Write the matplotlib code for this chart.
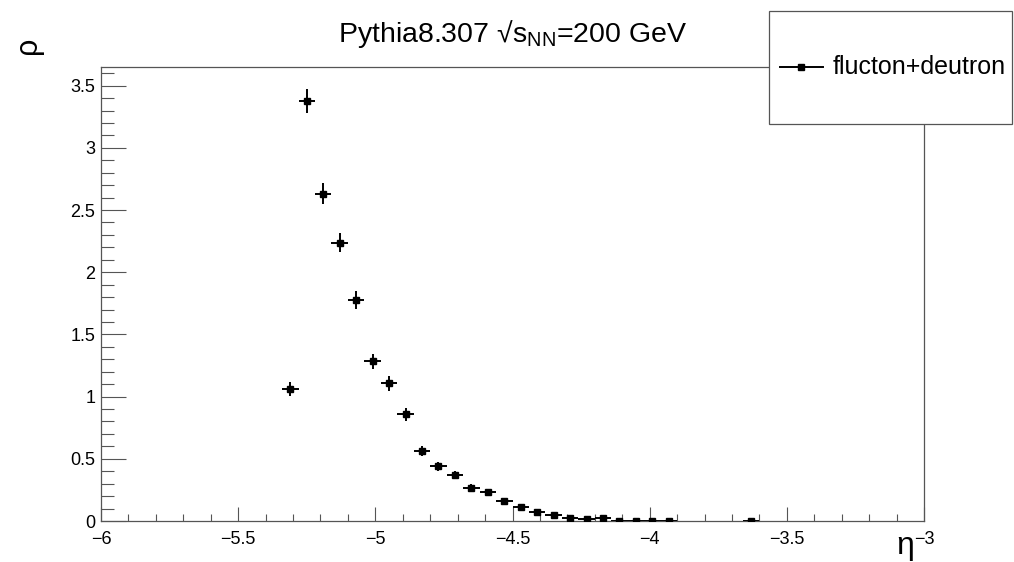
import matplotlib
matplotlib.use("Agg")
import matplotlib.pyplot as plt
from matplotlib.patches import Rectangle
from matplotlib.lines import Line2D
from matplotlib.ticker import MultipleLocator

# ROOT-like look
plt.rcParams['font.family'] = ['Liberation Sans', 'DejaVu Sans']
plt.rcParams['mathtext.fontset'] = 'custom'
plt.rcParams['mathtext.rm'] = 'Liberation Sans'
plt.rcParams['mathtext.it'] = 'Liberation Sans:italic'

# data: bin centres (eta), density (rho) and statistical errors
eta = [-5.31, -5.25, -5.19, -5.13, -5.07, -5.01, -4.95, -4.89, -4.83, -4.77,
       -4.71, -4.65, -4.59, -4.53, -4.47, -4.41, -4.35, -4.29, -4.23, -4.17,
       -4.11, -4.05, -3.99, -3.93, -3.63]
rho = [1.058, 3.376, 2.632, 2.239, 1.775, 1.285, 1.106, 0.857, 0.565, 0.442,
       0.372, 0.268, 0.23, 0.158, 0.115, 0.075, 0.046, 0.027, 0.014, 0.027,
       0.004, 0.004, 0.004, 0.004, 0.004]
rho_err = [0.056, 0.098, 0.085, 0.08, 0.072, 0.061, 0.057, 0.05, 0.04, 0.036,
           0.033, 0.028, 0.026, 0.021, 0.018, 0.015, 0.012, 0.009, 0.006, 0.009,
           0.003, 0.003, 0.003, 0.003, 0.003]
bin_half = 0.03

fig = plt.figure(figsize=(10.14, 5.62), dpi=100)
ax = fig.add_axes([101 / 1014, 41 / 562, 823 / 1014, 454 / 562])

ax.errorbar(eta, rho, xerr=bin_half, yerr=rho_err, fmt='s', color='black',
            ms=5, elinewidth=1.4, capsize=0, zorder=3)

ax.set_xlim(-6, -3)
ax.set_ylim(0, 3.65)
ax.xaxis.set_major_locator(MultipleLocator(0.5))
ax.xaxis.set_minor_locator(MultipleLocator(0.1))
ax.yaxis.set_major_locator(MultipleLocator(0.5))
ax.yaxis.set_minor_locator(MultipleLocator(0.1))
ax.tick_params(axis='x', which='major', direction='in', length=10, width=0.8,
               color='#555555', labelsize=13, pad=7, top=False)
ax.tick_params(axis='x', which='minor', direction='in', length=5, width=0.8,
               color='#555555', top=False)
ax.tick_params(axis='y', which='major', direction='in', length=18, width=0.8,
               color='#555555', labelsize=13, pad=4, right=False)
ax.tick_params(axis='y', which='minor', direction='in', length=9, width=0.8,
               color='#555555', right=False)
for s in ax.spines.values():
    s.set_color('#555555')
    s.set_linewidth(0.9)

ax.xaxis.set_major_formatter(plt.FuncFormatter(
    lambda v, p: ('%g' % v).replace('-', '\u2212')))
ax.yaxis.set_major_formatter(plt.FuncFormatter(lambda v, p: '%g' % v))

# title and axis titles
fig.text(513 / 1014, 1 - 34 / 562, 'Pythia8.307 \u221a$\\mathregular{s_{NN}}$=200 GeV',
         ha='center', va='center', fontsize=20.5)
fig.text(28 / 1014, 1 - 45 / 562, '\u03c1', ha='center', va='center',
         fontsize=22, rotation=90)
fig.text(905 / 1014, 1 - 546 / 562, '\u03b7', ha='center', va='center',
         fontsize=23)

# legend box (white, drawn over the frame)
fig.patches.append(Rectangle((769 / 1014, 1 - 124 / 562), 243 / 1014, 113 / 562,
                             transform=fig.transFigure, facecolor='white',
                             edgecolor='#555555', linewidth=0.9, zorder=5))
ly = 1 - 67 / 562
fig.lines.append(Line2D([780 / 1014, 823 / 1014], [ly, ly], transform=fig.transFigure,
                        color='black', linewidth=1.4, zorder=6))
fig.lines.append(Line2D([801 / 1014], [ly], transform=fig.transFigure, marker='s',
                        ms=5, color='black', zorder=7))
fig.text(833 / 1014, ly, 'flucton+deutron', ha='left', va='center',
         fontsize=18, zorder=8)

fig.savefig('out.png', dpi=100)
